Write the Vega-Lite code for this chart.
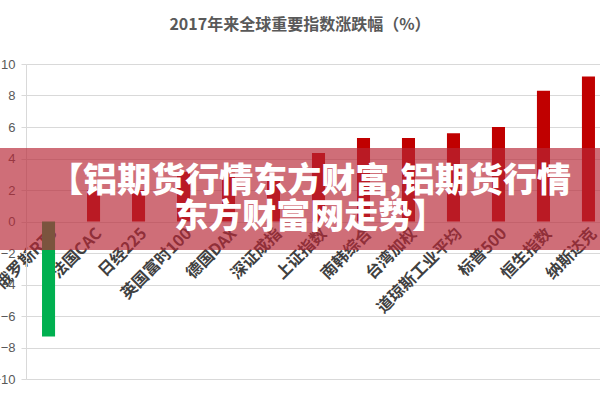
{
  "$schema": "https://vega.github.io/schema/vega-lite/v6.json",
  "width": 574,
  "height": 315,
  "autosize": {"type": "none"},
  "padding": {"left": 26, "top": 64, "right": 0, "bottom": 21},
  "background": "white",
  "title": {
    "text": "2017年来全球重要指数涨跌幅（%）",
    "font": "Noto Sans CJK SC",
    "fontSize": 16,
    "fontWeight": "bold",
    "color": "#595959",
    "anchor": "middle",
    "dx": -13,
    "baseline": "alphabetic",
    "offset": 12
  },
  "config": {
    "view": {"stroke": null},
    "axisY": {
      "title": null,
      "grid": true,
      "gridColor": "#d9d9d9",
      "domainColor": "#d9d9d9",
      "tickColor": "#d9d9d9",
      "tickSize": 5,
      "labelPadding": 6,
      "labelOverlap": false,
      "labelFlush": false,
      "labelFont": "Liberation Sans",
      "labelFontSize": 13,
      "labelColor": "#595959"
    }
  },
  "layer": [
    {
      "data": {
        "values": [
          {"index": "俄罗斯RTS", "change": -7.3},
          {"index": "法国CAC", "change": 2.0},
          {"index": "日经225", "change": 2.0},
          {"index": "英国富时100", "change": 3.15},
          {"index": "德国DAX", "change": 3.3},
          {"index": "深证成指", "change": 2.7},
          {"index": "上证指数", "change": 4.35},
          {"index": "南韩综合", "change": 5.3},
          {"index": "台湾加权", "change": 5.3},
          {"index": "道琼斯工业平均", "change": 5.6},
          {"index": "标普500", "change": 6.0},
          {"index": "恒生指数", "change": 8.3},
          {"index": "纳斯达克", "change": 9.2}
        ]
      },
      "mark": {"type": "bar"},
      "encoding": {
        "x": {
          "field": "index",
          "type": "nominal",
          "sort": null,
          "scale": {"range": [0, 585], "paddingInner": 0.71, "paddingOuter": 0.356},
          "axis": {
            "title": null,
            "labelAngle": -45,
            "labelAlign": "right",
            "labelBaseline": "top",
            "offset": -158,
            "domain": false,
            "ticks": false,
            "labelPadding": 4,
            "labelFont": "Noto Sans CJK SC",
            "labelFontWeight": "bold",
            "labelFontSize": 16,
            "labelColor": "#404040",
            "labelOverlap": false,
            "labelLimit": 0,
            "grid": false
          }
        },
        "y": {
          "field": "change",
          "type": "quantitative",
          "scale": {"domain": [-10, 10], "nice": false},
          "axis": {"title": null, "values": [-10, -8, -6, -4, -2, 0, 2, 4, 6, 8, 10]}
        },
        "color": {
          "condition": {"test": "datum.change < 0", "value": "#00b050"},
          "value": "#c00000"
        }
      }
    },
    {
      "data": {"values": [{}]},
      "mark": {"type": "rect", "color": "#b72736", "opacity": 0.67},
      "encoding": {
        "x": {"datum": -0.046, "type": "quantitative", "scale": {"domain": [0, 1], "nice": false, "zero": false}, "axis": null},
        "x2": {"datum": 1},
        "y": {"datum": 4.67, "type": "quantitative", "axis": {"title": null, "values": [-10, -8, -6, -4, -2, 0, 2, 4, 6, 8, 10]}},
        "y2": {"datum": -1.81}
      }
    },
    {
      "data": {"values": [{}]},
      "mark": {
        "type": "text",
        "text": "【铝期货行情东方财富,铝期货行情\n东方财富网走势】",
        "lineBreak": "\n",
        "lineHeight": 36,
        "align": "center",
        "baseline": "middle",
        "font": "Noto Sans CJK SC",
        "fontWeight": 900,
        "fontSize": 34,
        "color": "white"
      },
      "encoding": {
        "x": {"datum": 0.495, "type": "quantitative", "scale": {"domain": [0, 1], "nice": false, "zero": false}, "axis": null},
        "y": {"datum": 2.51, "type": "quantitative", "axis": {"title": null, "values": [-10, -8, -6, -4, -2, 0, 2, 4, 6, 8, 10]}}
      }
    }
  ],
  "resolve": {"scale": {"x": "independent"}}
}
